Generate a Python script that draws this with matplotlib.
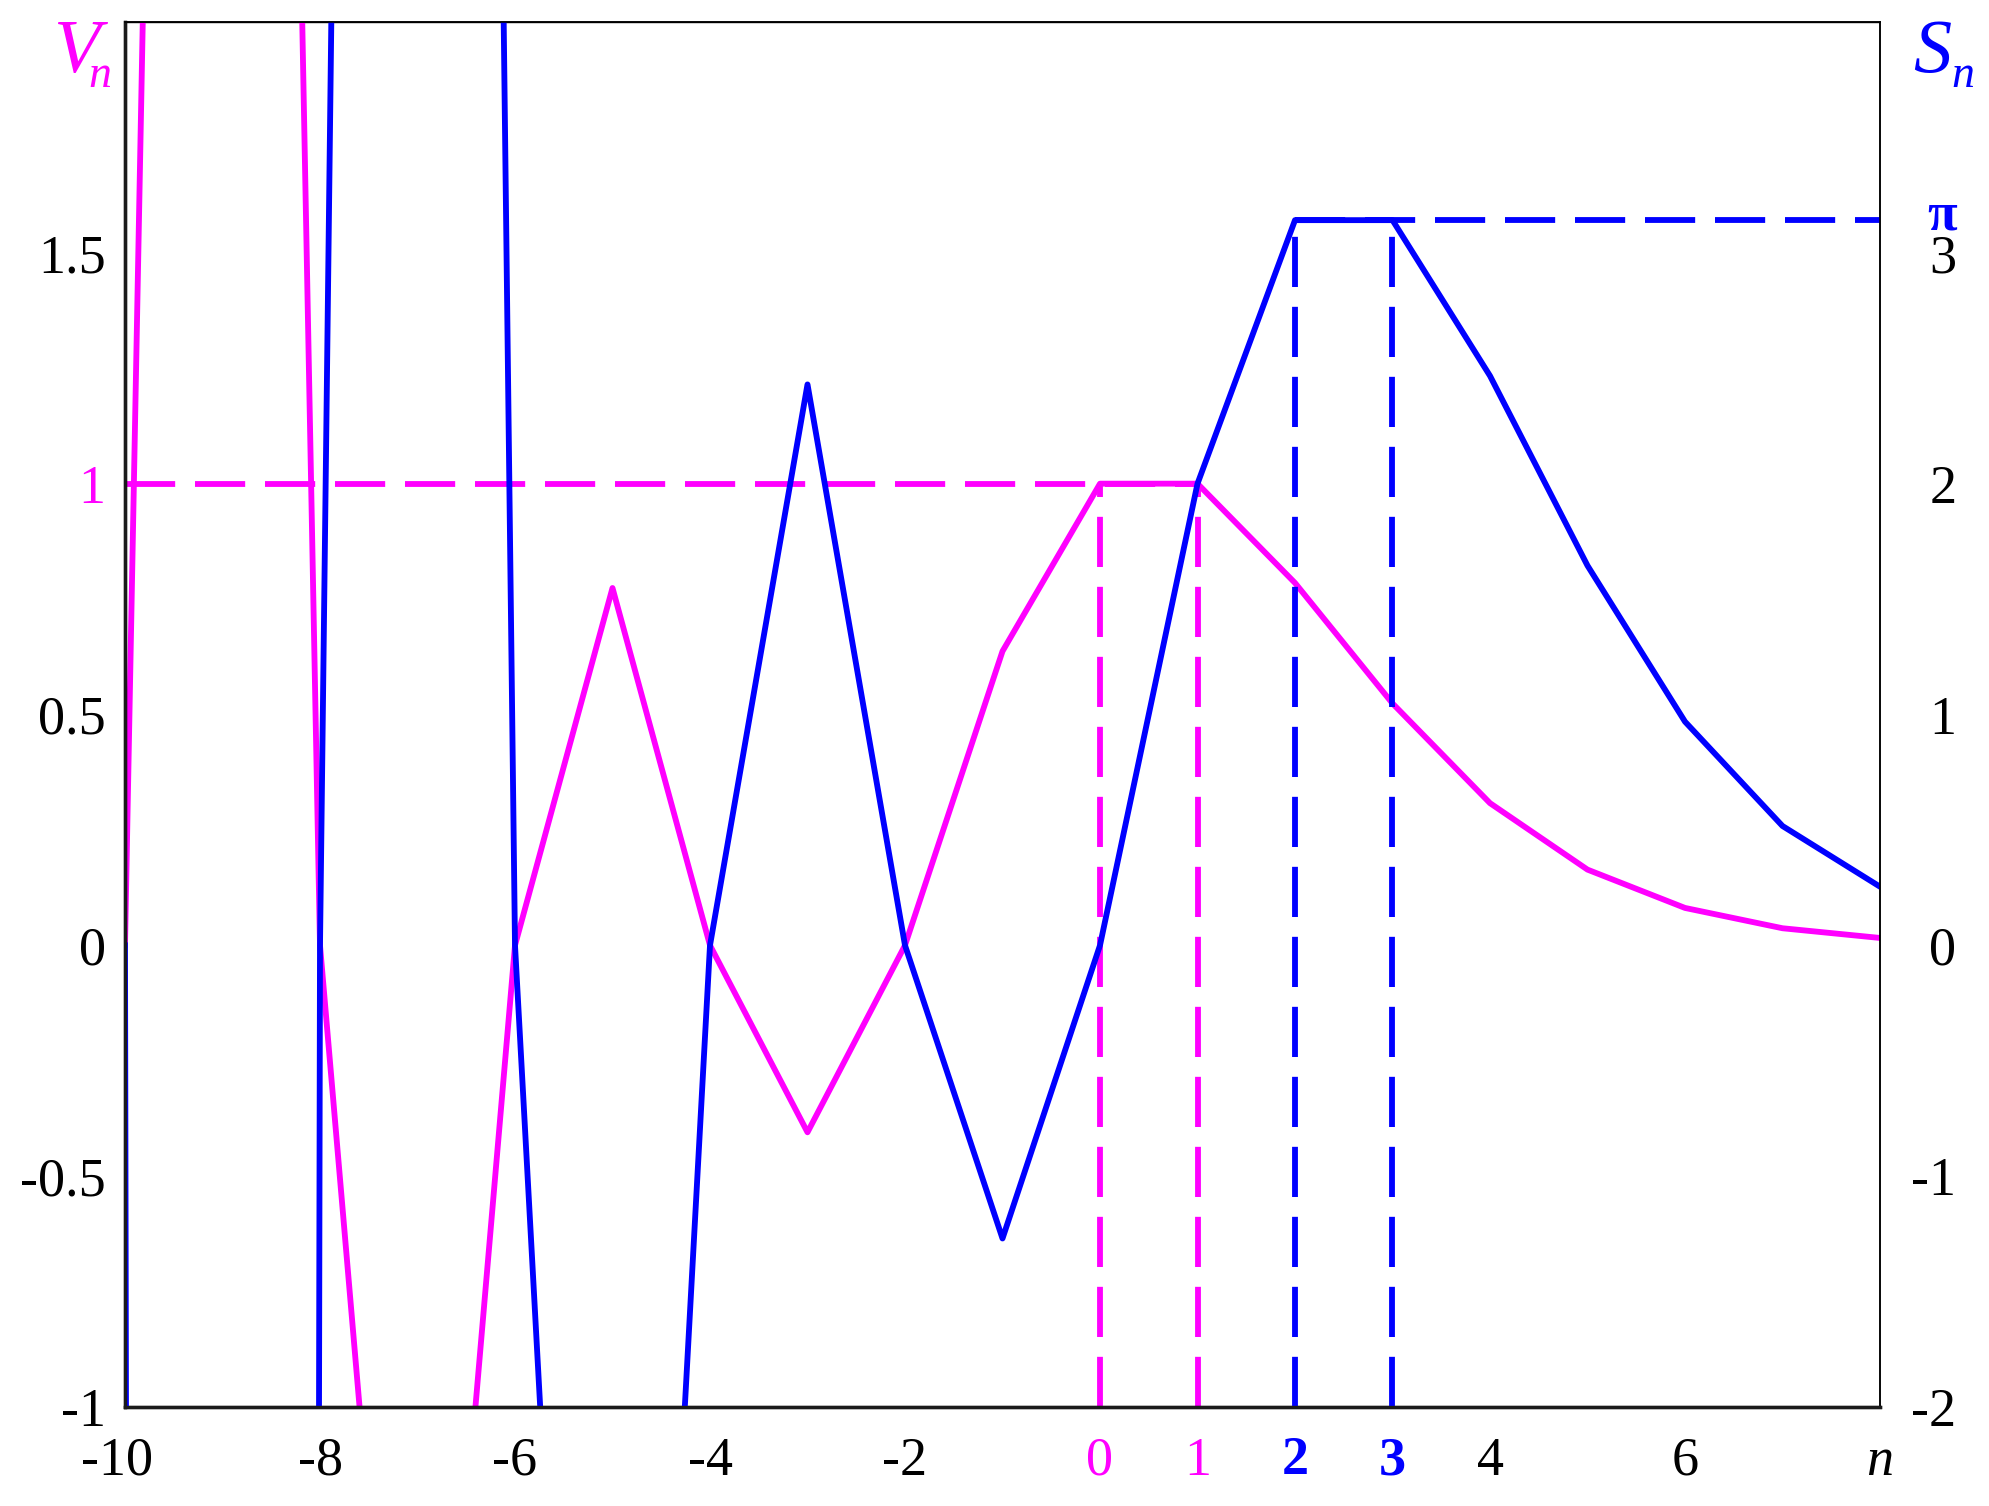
"""Volume V_n and surface S_n of the n-ball of unit diameter, Mathcad style."""
import matplotlib

matplotlib.use("Agg")
import matplotlib.pyplot as plt
from matplotlib.transforms import ScaledTranslation

plt.rcParams["font.family"] = ["Liberation Serif", "DejaVu Serif"]
plt.rcParams["axes.unicode_minus"] = False

MAGENTA = "#ff00ff"
BLUE = "#0000ff"

# values (points off the chart estimated from where the lines leave it)
n = [-10, -9, -8, -7, -6, -5, -4, -3, -2, -1, 0, 1, 2, 3, 4, 5, 6, 7, 8]
V_n = [0, 10.98, 0, -2.464, 0, 0.774, 0, -0.405, 0, 0.637, 1.0, 1.0, 0.785, 0.524,
       0.308, 0.164, 0.081, 0.037, 0.016]
S_n = [0, -197.6, 0, 34.5, 0, -7.74, 0, 2.43, 0, -1.27, 0, 2.0, 3.1416, 3.1416,
       2.467, 1.645, 0.969, 0.517, 0.254]

V_LEVEL = 1.0
V_MARKS = [0, 1]
S_LEVEL = 3.1416
S_MARKS = [2, 3]

x_ticks = [-10, -8, -6, -4, -2, 0, 1, 2, 3, 4, 6, 8]
x_tick_labels = ["-10", "-8", "-6", "-4", "-2", "0", "1", "2", "3", "4", "6", "n"]
x_grid = [-10, -8, -6, -4, -2, 0, 2, 4, 6, 8]
v_ticks = [-1, -0.5, 0, 0.5, 1, 1.5]
v_tick_labels = ["-1", "-0.5", "0", "0.5", "1", "1.5"]
v_grid = [-1, -0.5, 0, 0.5, 1, 1.5, 2]
s_ticks = [-2, -1, 0, 1, 2, 3, 3.1416]
s_tick_labels = ["-2", "-1", "0", "1", "2", "3", "π"]

W, H = 1989, 1506
fig = plt.figure(figsize=(W / 100, H / 100), dpi=100)
ax = fig.add_axes([125 / W, 1 - 1407 / H, 1755 / W, 1385 / H])
ax2 = ax.twinx()

LW = 4.2
DASH = (0, (8.6, 3.4))

ax.set_xlim(-10, 8)
ax.set_ylim(-1, 2)
ax2.set_ylim(-2, 4)

# grid on minor ticks so labelled 1 and 3 get no grid line
ax.set_xticks(x_grid, minor=True)
ax.set_yticks(v_grid, minor=True)
ax.grid(which="minor", color="black", linewidth=1.0)
ax.set_axisbelow(True)

# guide lines
ax.hlines(V_LEVEL, n[0], V_MARKS[-1], colors=MAGENTA, linewidth=LW, linestyles=DASH)
ax.vlines(V_MARKS, -1, V_LEVEL, colors=MAGENTA, linewidth=LW, linestyles=DASH)
ax2.hlines(S_LEVEL, S_MARKS[0], n[-1], colors=BLUE, linewidth=LW, linestyles=DASH)
ax2.vlines(S_MARKS, -2, S_LEVEL, colors=BLUE, linewidth=LW, linestyles=DASH)

ax.plot(n, V_n, color=MAGENTA, linewidth=LW, solid_joinstyle="round")
ax2.plot(n, S_n, color=BLUE, linewidth=LW, solid_joinstyle="round")

FS = 39
ax.set_xticks(x_ticks, x_tick_labels)
ax.set_yticks(v_ticks, v_tick_labels)
ax2.set_yticks(s_ticks, s_tick_labels)
ax.tick_params(which="both", length=0, labelsize=FS)
ax.tick_params(axis="x", pad=21)
ax.tick_params(axis="y", pad=14)
ax2.tick_params(which="both", length=0, labelsize=FS, pad=55)
for lab in ax2.get_yticklabels():
    lab.set_horizontalalignment("right")

for lab in ax.get_xticklabels():
    t = lab.get_text()
    if t in ("0", "1"):
        lab.set_color(MAGENTA)
    elif t in ("2", "3"):
        lab.set_color(BLUE)
        lab.set_fontweight("bold")
    elif t == "n":
        lab.set_fontstyle("italic")
    elif t == "-10":
        lab.set_transform(lab.get_transform() + ScaledTranslation(-0.08, 0, fig.dpi_scale_trans))
for lab in ax.get_yticklabels():
    if lab.get_text() == "1":
        lab.set_color(MAGENTA)
for lab in ax2.get_yticklabels():
    if lab.get_text() == "π":
        lab.set_color(BLUE)
        lab.set_fontweight("bold")
        lab.set_transform(lab.get_transform() + ScaledTranslation(0, 0.1, fig.dpi_scale_trans))

# both axes get the same frame so the spines sit above every curve
for a in (ax, ax2):
    for side in ("left", "bottom"):
        a.spines[side].set_linewidth(2.4)
        a.spines[side].set_color("#1a1a1a")
    for side in ("top", "right"):
        a.spines[side].set_linewidth(1.1)

# axis names in the corners
fig.text(53 / W, 1 - 72 / H, "V", color=MAGENTA, fontsize=55, style="italic", ha="left", va="baseline")
fig.text(88 / W, 1 - 87 / H, "n", color=MAGENTA, fontsize=33, style="italic", ha="left", va="baseline")
fig.text(1913 / W, 1 - 72 / H, "S", color=BLUE, fontsize=55, style="italic", ha="left", va="baseline")
fig.text(1951 / W, 1 - 87 / H, "n", color=BLUE, fontsize=33, style="italic", ha="left", va="baseline")

fig.savefig("out.png", dpi=100)
